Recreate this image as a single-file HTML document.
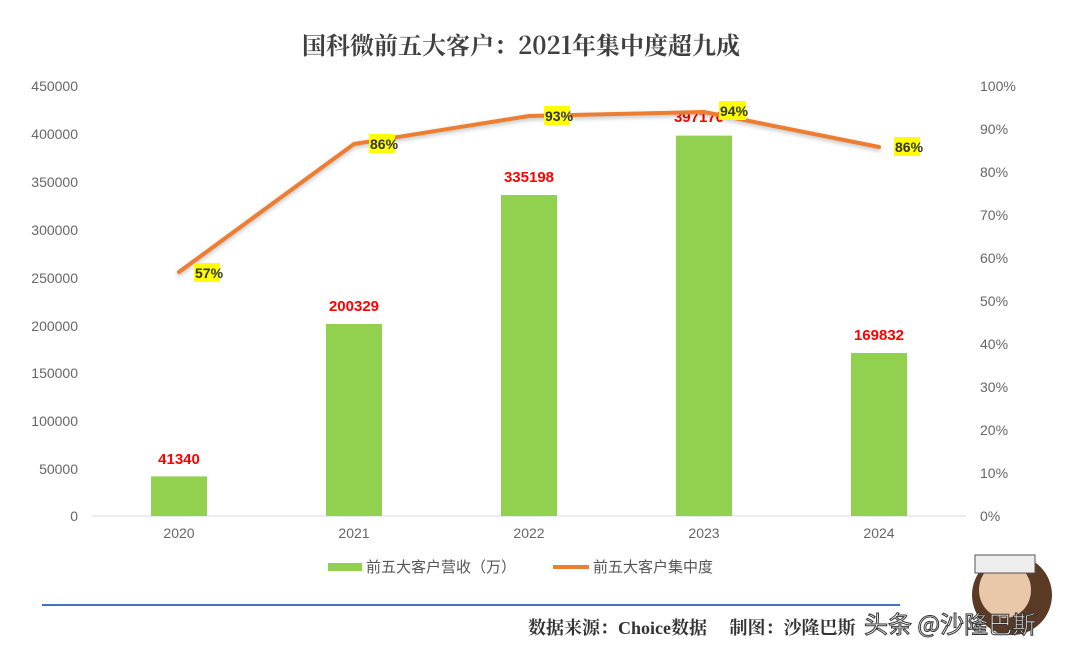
<!DOCTYPE html>
<html><head><meta charset="utf-8"><style>
body{margin:0;background:#fff;}
svg{display:block;font-family:"Liberation Sans","Noto Sans CJK SC",sans-serif;}
</style></head><body>
<svg width="1080" height="654" viewBox="0 0 1080 654">
<text x="521" y="54" text-anchor="middle" font-size="24" font-weight="bold" fill="#404040" font-family="'Noto Serif CJK SC','Noto Sans CJK SC',serif">国科微前五大客户：2021年集中度超九成</text>
<g font-size="14" fill="#666" text-anchor="end">
<text x="78" y="91">450000</text><text x="78" y="139">400000</text><text x="78" y="187">350000</text>
<text x="78" y="235">300000</text><text x="78" y="283">250000</text><text x="78" y="331">200000</text>
<text x="78" y="378">150000</text><text x="78" y="426">100000</text><text x="78" y="474">50000</text>
<text x="78" y="521">0</text>
</g>
<g font-size="14" fill="#666">
<text x="980" y="91">100%</text><text x="980" y="134">90%</text><text x="980" y="177">80%</text>
<text x="980" y="220">70%</text><text x="980" y="263">60%</text><text x="980" y="306">50%</text>
<text x="980" y="349">40%</text><text x="980" y="392">30%</text><text x="980" y="435">20%</text>
<text x="980" y="478">10%</text><text x="980" y="521">0%</text>
</g>
<line x1="92" y1="516" x2="966" y2="516" stroke="#d9d9d9" stroke-width="1"/>
<g fill="#92d050">
<rect x="151" y="476.4" width="56" height="39.6"/>
<rect x="326" y="324" width="56" height="192"/>
<rect x="501" y="195" width="56" height="321"/>
<rect x="676" y="135.6" width="56" height="380.4"/>
<rect x="851" y="353" width="56" height="163"/>
</g>
<g font-size="14" fill="#666" text-anchor="middle">
<text x="179" y="538">2020</text><text x="354" y="538">2021</text><text x="529" y="538">2022</text>
<text x="704" y="538">2023</text><text x="879" y="538">2024</text>
</g>
<g font-size="15" font-weight="bold" fill="#ff0000" text-anchor="middle">
<text x="179" y="464">41340</text><text x="354" y="311">200329</text><text x="529" y="182">335198</text>
<text x="699" y="122">397170</text><text x="879" y="340">169832</text>
</g>
<polyline points="179,272 354,144 529,116 704,112 879,147" fill="none" stroke="#ed7d31" stroke-width="4" stroke-linejoin="round" stroke-linecap="round" style="filter:drop-shadow(0 2px 2px rgba(0,0,0,0.25))"/>
<g font-size="14" font-weight="bold" fill="#333">
<rect x="194" y="263" width="26" height="19" fill="#ffff00"/><text x="195" y="278">57%</text>
<rect x="369" y="134" width="26" height="19" fill="#ffff00"/><text x="370" y="149">86%</text>
<rect x="544" y="106" width="26" height="19" fill="#ffff00"/><text x="545" y="121">93%</text>
<rect x="719" y="101" width="27" height="19" fill="#ffff00"/><text x="720" y="116">94%</text>
<rect x="894" y="137" width="26" height="19" fill="#ffff00"/><text x="895" y="152">86%</text>
</g>
<rect x="328" y="563" width="34" height="8" fill="#92d050"/>
<text x="366" y="572" font-size="15" fill="#555">前五大客户营收（万）</text>
<line x1="553" y1="567" x2="589" y2="567" stroke="#ed7d31" stroke-width="4"/>
<text x="593" y="572" font-size="15" fill="#555">前五大客户集中度</text>
<line x1="42" y1="605" x2="900" y2="605" stroke="#4472c4" stroke-width="2"/>
<text x="528" y="634" font-size="18" font-weight="bold" fill="#333" font-family="'Liberation Serif','Noto Serif CJK SC',serif">数据来源：Choice数据　  制图：沙隆巴斯</text>
<g>
<ellipse cx="1012" cy="595" rx="40" ry="40" fill="#5a3a25"/>
<ellipse cx="1005" cy="590" rx="26" ry="28" fill="#e8c8a8"/>
<rect x="975" y="555" width="60" height="18" fill="#eee" stroke="#555"/>
</g>
<text x="864" y="633" font-size="24" fill="#fff" stroke="#333" stroke-width="1" font-family="'Noto Sans CJK SC',sans-serif">头条 @沙隆巴斯</text>
</svg>
</body></html>
